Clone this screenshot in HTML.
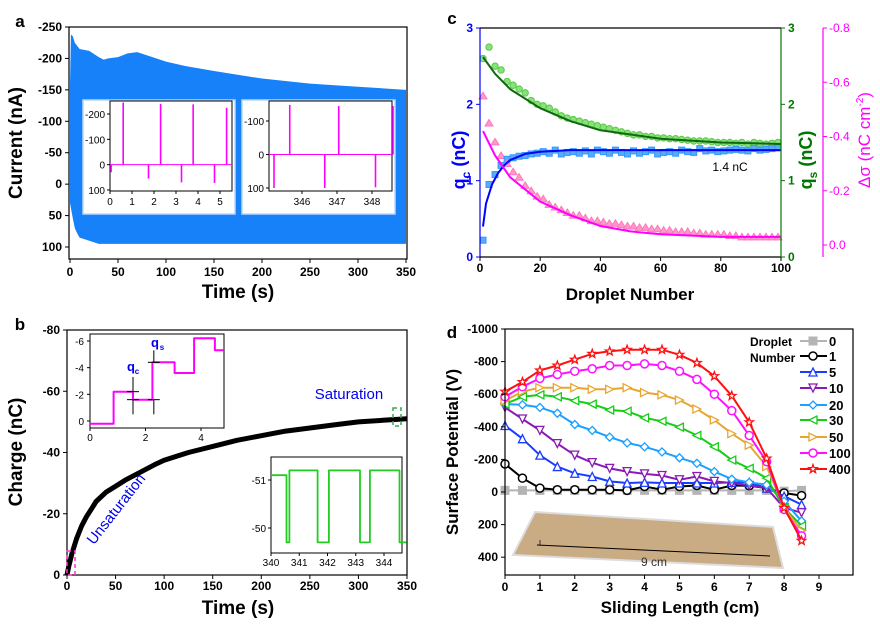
<!DOCTYPE html>
<html><head><meta charset="utf-8"><style>
html,body{margin:0;padding:0;background:#fff;}
svg{display:block;font-family:"Liberation Sans",sans-serif;}
</style></head><body>
<svg id="fig" width="880" height="626" viewBox="0 0 880 626" xmlns="http://www.w3.org/2000/svg"></svg>
<script>
// ---------- DATA ----------
const aTopT=[0,1,3,5,10,20,30,35,40,50,60,70,80,100,120,150,200,250,300,350];
const aTopV=[-160,-238,-235,-225,-215,-212,-202,-198,-200,-202,-208,-210,-205,-195,-188,-180,-168,-160,-155,-150];
const aBotT=[0,3,5,8,10,20,30,50,100,200,300,350];
const aBotV=[30,55,70,80,85,90,95,95,95,95,95,95];
const aTicksY=[-250,-200,-150,-100,-50,0,50,100];
const aTicksX=[0,50,100,150,200,250,300,350];
const a1SpikeT=[0.05,0.6,1.75,2.3,3.25,3.78,4.75,5.3];
const a1SpikeV=[30,-245,55,-240,70,-238,72,-225];
const a2SpikeT=[345.2,345.65,346.65,347.05,348.1,348.6];
const a2SpikeV=[100,-148,100,-145,98,-145];
const bT=[0,2,5,10,15,20,25,30,40,50,60,75,90,100,125,150,175,200,225,250,275,300,325,350];
const bQ=[0,-3,-7,-12,-16,-19,-21.5,-24,-27,-29,-31,-33.5,-36,-37.5,-40,-42,-44,-45.5,-47,-48,-49,-50,-50.5,-51];
const bTicksY=[-80,-60,-40,-20,0];
const bTicksX=[0,50,100,150,200,250,300,350];
const b1T=[0,0.85,0.85,1.55,1.55,2.25,2.25,3.05,3.05,3.75,3.75,4.5,4.5,4.8];
const b1Q=[0.2,0.2,-2.2,-2.2,-1.6,-1.6,-4.4,-4.4,-3.6,-3.6,-6.2,-6.2,-5.3,-5.3];
const b2T=[340,340.55,340.55,340.65,340.65,341.65,341.65,342.05,342.05,343.15,343.15,343.5,343.5,344.55,344.55,344.8];
const b2Q=[-51.1,-51.1,-49.7,-49.7,-51.2,-51.2,-49.7,-49.7,-51.2,-51.2,-49.7,-49.7,-51.2,-51.2,-49.7,-49.7];
const cQc=[0.22,0.95,1.08,1.2,1.28,1.3,1.32,1.33,1.35,1.36,1.38,1.36,1.4,1.35,1.37,1.38,1.36,1.39,1.35,1.4,1.38,1.36,1.4,1.37,1.35,1.39,1.36,1.38,1.4,1.35,1.37,1.38,1.36,1.4,1.38,1.37,1.42,1.39,1.4,1.38,1.39,1.4,1.41,1.4,1.39,1.42,1.4,1.41,1.42,1.43];
const cQs=[2.6,2.75,2.5,2.45,2.3,2.25,2.2,2.15,2.05,2.0,1.98,1.95,1.9,1.85,1.82,1.8,1.78,1.76,1.74,1.72,1.7,1.68,1.66,1.64,1.62,1.6,1.6,1.58,1.58,1.56,1.56,1.55,1.55,1.54,1.53,1.52,1.52,1.52,1.51,1.5,1.5,1.5,1.49,1.5,1.48,1.5,1.49,1.48,1.49,1.5];
const cDs=[-0.55,-0.45,-0.38,-0.33,-0.3,-0.27,-0.25,-0.22,-0.2,-0.18,-0.17,-0.15,-0.14,-0.13,-0.12,-0.11,-0.11,-0.1,-0.09,-0.09,-0.085,-0.08,-0.08,-0.075,-0.07,-0.07,-0.065,-0.065,-0.06,-0.06,-0.055,-0.055,-0.05,-0.05,-0.05,-0.045,-0.045,-0.04,-0.04,-0.04,-0.04,-0.035,-0.035,-0.03,-0.03,-0.03,-0.03,-0.03,-0.03,-0.03];
const cFitQsN=[1,5,10,20,30,40,60,80,100], cFitQs=[2.62,2.4,2.2,1.95,1.78,1.66,1.55,1.5,1.48];
const cFitQcN=[1,2,4,6,8,10,15,20,30,100], cFitQc=[0.4,0.7,0.95,1.1,1.2,1.27,1.35,1.38,1.4,1.4];
const cFitDsN=[1,5,10,20,30,40,50,60,80,100], cFitDs=[-0.42,-0.33,-0.25,-0.16,-0.11,-0.07,-0.05,-0.04,-0.03,-0.03];
const cTicksX=[0,20,40,60,80,100];
const cTicksY=[0,1,2,3];
const cTicksDs=[0,-0.2,-0.4,-0.6,-0.8];
const dX=[0,0.5,1,1.5,2,2.5,3,3.5,4,4.5,5,5.5,6,6.5,7,7.5,8,8.5];
const dLabels=['0','1','5','10','20','30','50','100','400'];
const d0=[-10,-10,-10,-10,-10,-10,-10,-10,-10,-10,-10,-10,-10,-10,-10,-10,-5,-10];
const d1=[-172,-85,-24,-14,-14,-14,-14,-10,-34,-14,-34,-40,-14,-40,-38,-24,6,22];
const d5=[-408,-327,-226,-156,-115,-95,-65,-55,-59,-55,-55,-55,-55,-59,-59,-24,26,77];
const d10=[-519,-448,-378,-297,-226,-180,-145,-125,-111,-101,-75,-95,-65,-55,-40,-24,97,127];
const d20=[-539,-535,-519,-483,-414,-378,-337,-301,-277,-246,-210,-176,-125,-79,-59,-44,57,178];
const d30=[-539,-584,-596,-584,-560,-539,-503,-495,-455,-434,-398,-347,-277,-196,-145,-85,97,208];
const d50=[-560,-616,-640,-640,-640,-630,-630,-640,-610,-596,-564,-509,-442,-358,-287,-156,97,238];
const d100=[-584,-646,-697,-721,-741,-756,-776,-776,-786,-776,-741,-691,-600,-499,-347,-186,107,269];
const d400=[-616,-675,-746,-776,-812,-848,-863,-873,-873,-873,-842,-792,-711,-590,-428,-206,97,299];
const dTicksY=[-1000,-800,-600,-400,-200,0,200,400];
const dTicksX=[0,1,2,3,4,5,6,7,8,9];

// ---------- HELPERS ----------
const NS='http://www.w3.org/2000/svg';
const svg=document.getElementById('fig');
function mk(tag,attrs,name,parent,inter){
  const el=document.createElementNS(NS,tag);
  for(const k in attrs) el.setAttribute(k,attrs[k]);
  
  
  (parent||svg).appendChild(el);
  return el;
}
function txt(x,y,s,name,opt){
  opt=opt||{};
  const t=mk('text',{x:x,y:y,'font-size':opt.size||12,'font-weight':opt.bold===false?'normal':'bold','text-anchor':opt.anchor||'middle',fill:opt.fill||'#000'},name,opt.parent);
  if(opt.rot) t.setAttribute('transform','rotate('+opt.rot+' '+x+' '+y+')');
  t.textContent=s; return t;
}
function lin(d0,d1,r0,r1){return v=>r0+(v-d0)*(r1-r0)/(d1-d0);}
function rect(x0,y0,x1,y1,name,stroke,fill,sw){return mk('rect',{x:x0,y:y0,width:x1-x0,height:y1-y0,fill:fill||'none',stroke:stroke||'#000','stroke-width':sw||1},name);}
function line(x1,y1,x2,y2,name,c,w){return mk('line',{x1:x1,y1:y1,x2:x2,y2:y2,stroke:c||'#000','stroke-width':w||1},name);}
function poly(xs,ys,sx,sy,name,c,w){
  const p=xs.map((v,i)=>sx(v).toFixed(1)+','+sy(ys[i]).toFixed(1)).join(' ');
  return mk('polyline',{points:p,fill:'none',stroke:c,'stroke-width':w||1,'stroke-linejoin':'round'},name);
}

// ---------- PANEL A ----------
(function(){
  const sx=lin(0,350,70,406), sy=lin(-250,100,27,247);
  txt(20,27,'a','panel-a-label',{size:17});
  let pts=aTopT.map((t,i)=>sx(t)+','+sy(aTopV[i]));
  for(let i=aBotT.length-1;i>=0;i--) pts.push(sx(aBotT[i])+','+sy(aBotV[i]));
  mk('polygon',{points:pts.join(' '),fill:'#1681f8'},'current-band');
  rect(69,27,407,259,'panel-a-frame','#000','none',1.2);
  aTicksY.forEach(v=>{line(65,sy(v),69,sy(v),'y-tick');txt(62,sy(v)+4,String(v),'y-tick-label',{anchor:'end'});});
  aTicksX.forEach(v=>{line(sx(v),259,sx(v),263,'x-tick');txt(sx(v),276,String(v),'x-tick-label');});
  txt(22,143,'Current (nA)','y-axis-title',{size:19,rot:-90});
  txt(238,298,'Time (s)','x-axis-title',{size:19});
  rect(83,100,235,214,'inset-a1-bg','#b8d6ff','#fff',1.5);
  const ix=lin(0,5,110,220), iy=lin(-200,100,114,190);
  rect(110,101,232,191,'inset-a1-frame','#000','none',1);
  line(110,iy(0),232,iy(0),'inset-a1-baseline','#ff00ff',1);
  a1SpikeT.forEach((t,i)=>line(ix(t),iy(0),ix(t),iy(a1SpikeV[i]),'inset-a1-spike','#ff00ff',1.6));
  [-200,-100,0,100].forEach(v=>{line(107,iy(v),110,iy(v),'inset-tick');txt(105,iy(v)+4,String(v),'inset-a1-y-label',{size:10,bold:false,anchor:'end'});});
  [0,1,2,3,4,5].forEach(v=>{line(ix(v),191,ix(v),194,'inset-tick');txt(ix(v),205,String(v),'inset-a1-x-label',{size:10,bold:false});});
  rect(242,100,395,214,'inset-a2-bg','#b8d6ff','#fff',1.5);
  const jx=lin(346,348,302,372), jy=lin(-100,100,121,188);
  rect(269,101,392,191,'inset-a2-frame','#000','none',1);
  line(269,jy(0),392,jy(0),'inset-a2-baseline','#ff00ff',1);
  a2SpikeT.forEach((t,i)=>line(jx(t),jy(0),jx(t),jy(a2SpikeV[i]),'inset-a2-spike','#ff00ff',1.6));
  [-100,0,100].forEach(v=>{line(266,jy(v),269,jy(v),'inset-tick');txt(264,jy(v)+4,String(v),'inset-a2-y-label',{size:10,bold:false,anchor:'end'});});
  [346,347,348].forEach(v=>{line(jx(v),191,jx(v),194,'inset-tick');txt(jx(v),205,String(v),'inset-a2-x-label',{size:10,bold:false});});
})();

// ---------- PANEL B ----------
(function(){
  const sx=lin(0,350,67,407), sy=lin(-80,0,330,575);
  txt(20,330,'b','panel-b-label',{size:17});
  rect(67,330,407,575,'panel-b-frame','#000','none',1.2);
  poly(bT,bQ,sx,sy,'charge-curve','#000',5);
  bTicksY.forEach(v=>{line(63,sy(v),67,sy(v),'y-tick');txt(60,sy(v)+4,String(v),'y-tick-label',{anchor:'end'});});
  bTicksX.forEach(v=>{line(sx(v),575,sx(v),579,'x-tick');txt(sx(v),590,String(v),'x-tick-label');});
  txt(22,452,'Charge (nC)','y-axis-title',{size:19,rot:-90});
  txt(238,614,'Time (s)','x-axis-title',{size:19});
  mk('rect',{x:67,y:551,width:8,height:24,fill:'none',stroke:'#ff33cc','stroke-width':1.5,'stroke-dasharray':'4,3'},'unsaturation-box');
  mk('rect',{x:393,y:408,width:8,height:18,fill:'none',stroke:'#33aa55','stroke-width':1.5,'stroke-dasharray':'4,3'},'saturation-box');
  txt(349,399,'Saturation','saturation-label',{size:15,bold:false,fill:'#0000ee'});
  txt(120,512,'Unsaturation','unsaturation-label',{size:15,bold:false,fill:'#0000ee',rot:-52});
  const ix=lin(0,4,90,201), iy=lin(-6,0,341,421);
  rect(90,334,224,428,'inset-b1-frame','#000','none',1);
  poly(b1T,b1Q,ix,iy,'inset-b1-step','#ff00ff',2);
  [-6,-4,-2,0].forEach(v=>{line(87,iy(v),90,iy(v),'inset-tick');txt(84,iy(v)+4,String(v),'inset-b1-y-label',{size:10,bold:false,anchor:'end'});});
  [0,2,4].forEach(v=>{line(ix(v),428,ix(v),431,'inset-tick');txt(ix(v),441,String(v),'inset-b1-x-label',{size:10,bold:false});});
  [[1.55,-2.2,-3.3],[1.55,-1.6,-0.5],[2.3,-1.6,-0.5],[2.3,-4.4,-5.3]].forEach(e=>{line(ix(e[0]),iy(e[1]),ix(e[0]),iy(e[2]),'error-bar','#000',1);line(ix(e[0])-6,iy(e[1]),ix(e[0])+6,iy(e[1]),'error-cap','#000',1);});
  txt(131,371,'q','qc-annotation',{size:13,fill:'#0000ee'}); txt(137,374,'c','qc-sub',{size:8,fill:'#0000ee'});
  txt(155,347,'q','qs-annotation',{size:13,fill:'#0000ee'}); txt(162,350,'s','qs-sub',{size:8,fill:'#0000ee'});
  const jx=lin(340,344,271,384), jy=lin(-51,-50,480,528);
  rect(271,457,402,553,'inset-b2-frame','#000','none',1);
  poly(b2T,b2Q,jx,jy,'inset-b2-signal','#22cc22',1.8);
  [-51,-50].forEach(v=>{line(268,jy(v),271,jy(v),'inset-tick');txt(266,jy(v)+4,String(v),'inset-b2-y-label',{size:10,bold:false,anchor:'end'});});
  [340,341,342,343,344].forEach(v=>{line(jx(v),553,jx(v),556,'inset-tick');txt(jx(v),566,String(v),'inset-b2-x-label',{size:10,bold:false});});
})();

// ---------- PANEL C ----------
(function(){
  const sx=lin(0,100,480,781), sy=lin(0,3,257,28), sd=lin(0,-0.8,245,28);
  txt(452,24,'c','panel-c-label',{size:17});
  const n=cQc.map((v,i)=>1+2*i);
  n.forEach((k,i)=>{
    mk('circle',{cx:sx(k),cy:sy(cQs[i]),r:3.2,fill:'#8be07e',stroke:'#55cc44','stroke-width':1},'qs-point');
    mk('rect',{x:sx(k)-3,y:sy(cQc[i])-3,width:6,height:6,fill:'#5aaaf5',stroke:'#3399ff','stroke-width':1},'qc-point');
    const x=sx(k), y=sd(cDs[i]);
    mk('polygon',{points:(x)+','+(y-3.5)+' '+(x-4)+','+(y+3)+' '+(x+4)+','+(y+3),fill:'#ff99cc',stroke:'#ff77bb','stroke-width':1},'delta-sigma-point');
  });
  poly(cFitQsN,cFitQs,sx,sy,'qs-fit','#116611',2);
  poly(cFitQcN,cFitQc,sx,sy,'qc-fit','#0000ff',2);
  poly(cFitDsN,cFitDs,sx,sd,'delta-sigma-fit','#ff00ff',2);
  line(480,28,480,257,'qc-axis','#0000ff',1.2);
  line(480,257,781,257,'x-axis','#000',1.2);
  line(781,28,781,257,'qs-axis','#007700',1.2);
  line(480,28,781,28,'top-frame','#000',1.2);
  line(823,28,823,257,'delta-sigma-axis','#ff00ff',1.2);
  cTicksY.forEach(v=>{txt(473,sy(v)+4,String(v),'qc-tick-label',{anchor:'end',fill:'#0000ff'});txt(788,sy(v)+4,String(v),'qs-tick-label',{anchor:'start',fill:'#007700'});line(781,sy(v),785,sy(v),'qs-tick','#007700');line(476,sy(v),480,sy(v),'qc-tick','#0000ff');});
  cTicksDs.forEach(v=>{line(823,sd(v),827,sd(v),'ds-tick','#ff00ff');txt(829,sd(v)+4,v.toFixed(1).replace('-0.0','0.0'),'ds-tick-label',{anchor:'start',fill:'#ff00ff',bold:false,size:12});});
  cTicksX.forEach(v=>{line(sx(v),257,sx(v),261,'x-tick');txt(sx(v),272,String(v),'x-tick-label');});
  txt(630,300,'Droplet Number','x-axis-title',{size:17});
  const t1=txt(465,160,'','qc-axis-title',{size:18,rot:-90,fill:'#0000ff'});
  t1.innerHTML='q<tspan font-size="12" dy="5">c</tspan><tspan dy="-5"> (nC)</tspan>';
  const t2=txt(812,160,'','qs-axis-title',{size:18,rot:-90,fill:'#007700'});
  t2.innerHTML='q<tspan font-size="12" dy="5">s</tspan><tspan dy="-5"> (nC)</tspan>';
  const t3=txt(870,140,'','ds-axis-title',{size:17,rot:-90,fill:'#ff00ff',bold:false});
  t3.innerHTML='Δσ (nC cm<tspan font-size="10" dy="-7">-2</tspan><tspan dy="7">)</tspan>';
  txt(730,171,'1.4 nC','plateau-label',{size:12,bold:false});
})();

// ---------- PANEL D ----------
(function(){
  const sx=lin(0,9,505,819), sy=lin(0,-1000,492,329);
  txt(452,338,'d','panel-d-label',{size:17});
  mk('polygon',{points:'535,512 773,527 783,568 513,555',fill:'#c9ab84',stroke:'#ddd','stroke-width':2},'slide-photo');
  line(540,540,540,545,'photo-marker','#333',1);
  line(537,545,770,556,'length-arrow','#000',1);
  txt(654,566,'9 cm','length-label',{size:12,bold:false,fill:'#333'});
  const series=[d0,d1,d5,d10,d20,d30,d50,d100,d400];
  const cols=['#b4b4b4','#000000','#1a3cff','#8a1ab4','#1aa0ff','#16cc16','#e8a631','#ff10ff','#ff1010'];
  const shapes=['sq','ci','tu','td','di','tl','tr','ci','st'];
  function marker(x,y,s,c,name){
    let p;
    const r=4;
    if(s==='sq') return mk('rect',{x:x-r,y:y-r,width:2*r,height:2*r,fill:c,stroke:c},name);
    if(s==='ci') return mk('circle',{cx:x,cy:y,r:r,fill:'#fff',stroke:c,'stroke-width':1.5},name);
    if(s==='tu') p=[[0,-r],[-r,r],[r,r]];
    if(s==='td') p=[[0,r],[-r,-r],[r,-r]];
    if(s==='di') p=[[0,-r],[r,0],[0,r],[-r,0]];
    if(s==='tl') p=[[-r,0],[r,-r],[r,r]];
    if(s==='tr') p=[[r,0],[-r,-r],[-r,r]];
    if(s==='st'){p=[];for(let k=0;k<10;k++){const a=-Math.PI/2+k*Math.PI/5,rr=k%2?r*0.45:r*1.1;p.push([rr*Math.cos(a),rr*Math.sin(a)]);}}
    return mk('polygon',{points:p.map(q=>(x+q[0])+','+(y+q[1])).join(' '),fill:'#fff',stroke:c,'stroke-width':1.3},name);
  }
  series.forEach((s,i)=>{
    poly(dX,s,sx,sy,'potential-line-'+dLabels[i],cols[i],2);
    dX.forEach((x,j)=>marker(sx(x),sy(s[j]),shapes[i],cols[i],'potential-point-'+dLabels[i]));
  });
  rect(505,329,853,575,'panel-d-frame','#000','none',1.2);
  dTicksY.forEach(v=>{line(501,sy(v),505,sy(v),'y-tick');txt(498,sy(v)+4,String(v),'y-tick-label',{anchor:'end'});});
  dTicksX.forEach(v=>{line(sx(v),575,sx(v),579,'x-tick');txt(sx(v),591,String(v),'x-tick-label');});
  txt(680,613,'Sliding Length (cm)','x-axis-title',{size:17});
  txt(458,452,'Surface Potential (V)','y-axis-title',{size:17,rot:-90});
  txt(750,346,'Droplet','legend-title',{size:12,anchor:'start'});
  txt(750,362,'Number','legend-title-2',{size:12,anchor:'start'});
  const ly=[341,356,372,388,405,420,437,453,469];
  dLabels.forEach((l,i)=>{
    line(800,ly[i],827,ly[i],'legend-line-'+l,cols[i],2);
    marker(813,ly[i],shapes[i],cols[i],'legend-marker-'+l);
    txt(829,ly[i]+5,l,'legend-label-'+l,{size:13,anchor:'start'});
  });
})();
</script>
</body></html>
